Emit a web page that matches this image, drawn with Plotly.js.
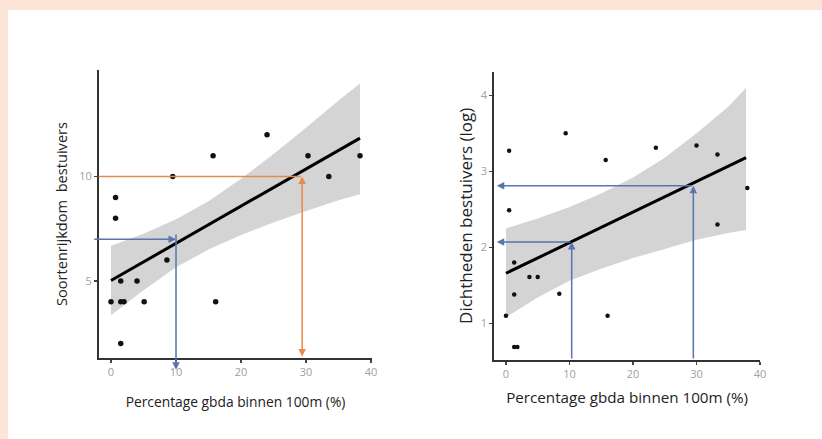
<!DOCTYPE html>
<html>
<head>
<meta charset="utf-8">
<script src="https://cdn.plot.ly/plotly-3.0.1.min.js"></script>
<style>
  html, body { margin: 0; padding: 0; background: #ffffff; }
  #chart { width: 822px; height: 439px; }
</style>
</head>
<body>
<div id="chart"></div>
<script>
// ---- Left panel: species richness ----
var leftX = [0, 0.7, 0.7, 1.5, 1.5, 2.0, 1.5, 4.0, 5.1, 8.6, 9.5, 15.7, 16.1, 24.0, 30.3, 33.5, 38.3];
var leftY = [4, 9, 8, 5, 4, 4, 2, 5, 4, 6, 10, 11, 4, 12, 11, 10, 11];
var leftFitX = [0, 38.3];
var leftFitY = [5.02, 11.84];
var leftBandX = [0, 5, 10, 15, 20, 25, 30, 35, 38.3];
var leftBandUpper = [6.68, 7.26, 7.95, 8.82, 9.89, 11.08, 12.34, 13.64, 14.45];
var leftBandLower = [3.36, 4.56, 5.65, 6.50, 7.20, 7.80, 8.35, 8.86, 9.15];
var leftReadX = [10, 29.4];
var leftReadY = [7.0, 10.0];

// ---- Right panel: density (log) ----
var rightX = [0, 0.5, 0.5, 1.3, 1.3, 1.3, 1.8, 3.7, 5.0, 8.4, 9.4, 15.7, 16.0, 23.6, 30.0, 33.3, 33.3, 38.0];
var rightY = [1.10, 3.27, 2.49, 1.80, 1.38, 0.69, 0.69, 1.61, 1.61, 1.39, 3.50, 3.15, 1.10, 3.31, 3.34, 3.22, 2.30, 2.78];
var rightFitX = [0, 37.8];
var rightFitY = [1.66, 3.18];
var rightBandX = [0, 5, 10, 15, 20, 25, 30, 35, 37.8];
var rightBandUpper = [2.25, 2.38, 2.53, 2.71, 2.92, 3.18, 3.50, 3.85, 4.10];
var rightBandLower = [1.08, 1.34, 1.56, 1.72, 1.86, 1.98, 2.10, 2.19, 2.23];
var rightReadX = [10.35, 29.5];
var rightReadY = [2.07, 2.81];

// ---- Tick labels ----
var xTicks = [0, 10, 20, 30, 40];
var leftYTicks = [5, 10];
var rightYTicks = [1, 2, 3, 4];

var xTitle = 'Percentage gbda binnen 100m (%)';
var leftYTitle = 'Soortenrijkdom  bestuivers';
var rightYTitle = 'Dichtheden bestuivers (log)';

var BAND = '#d4d4d4';
var BLUE = '#5676ac';
var ORANGE = '#e9894a';
var FONT = 'Open Sans, Noto Sans, sans-serif';

function bandTrace(xs, up, lo, xa, ya) {
  return {
    x: xs.concat(xs.slice().reverse()),
    y: up.concat(lo.slice().reverse()),
    xaxis: xa, yaxis: ya,
    type: 'scatter', mode: 'lines', fill: 'toself',
    fillcolor: BAND, line: {width: 0, color: BAND},
    hoverinfo: 'skip'
  };
}

var data = [
  bandTrace(leftBandX, leftBandUpper, leftBandLower, 'x', 'y'),
  {x: leftX, y: leftY, xaxis: 'x', yaxis: 'y', type: 'scatter', mode: 'markers',
   marker: {color: '#111', size: 5.5}},
  {x: leftFitX, y: leftFitY, xaxis: 'x', yaxis: 'y', type: 'scatter', mode: 'lines',
   line: {color: '#000', width: 3}},
  bandTrace(rightBandX, rightBandUpper, rightBandLower, 'x2', 'y2'),
  {x: rightX, y: rightY, xaxis: 'x2', yaxis: 'y2', type: 'scatter', mode: 'markers',
   marker: {color: '#111', size: 4.5}},
  {x: rightFitX, y: rightFitY, xaxis: 'x2', yaxis: 'y2', type: 'scatter', mode: 'lines',
   line: {color: '#000', width: 3}}
];

function axisCommon() {
  return {
    showline: true, linecolor: '#333', linewidth: 2,
    ticks: 'outside', ticklen: 3, tickwidth: 1.5, tickcolor: '#444',
    showgrid: false, zeroline: false,
    tickfont: {family: FONT, size: 11, color: '#a0a0a0'}
  };
}

var xa = Object.assign(axisCommon(), {
  domain: [0.1204, 0.4526], range: [-1.85, 40.15], anchor: 'y',
  tickvals: xTicks,
  title: {text: xTitle, font: {family: FONT, size: 13.8, color: '#222'}, standoff: 19}
});
var ya = Object.assign(axisCommon(), {
  domain: [0.1845, 0.8405], range: [1.31, 15.1], anchor: 'x',
  tickvals: leftYTicks,
  title: {text: leftYTitle, font: {family: FONT, size: 14.6, color: '#222'}, standoff: 8}
});
var xa2 = Object.assign(axisCommon(), {
  domain: [0.6013, 0.9246], range: [-1.84, 40.0], anchor: 'y2',
  tickvals: xTicks,
  title: {text: xTitle, font: {family: FONT, size: 15.2, color: '#222'}, standoff: 12}
});
var ya2 = Object.assign(axisCommon(), {
  domain: [0.18, 0.8367], range: [0.52, 4.31], anchor: 'x2',
  tickvals: rightYTicks,
  title: {text: rightYTitle, font: {family: FONT, size: 17, color: '#222'}, standoff: 4}
});

function arrow(xr, yr, x, y, ax, ay, color, side) {
  return {
    xref: xr, yref: yr, axref: xr, ayref: yr,
    x: x, y: y, ax: ax, ay: ay, text: '',
    showarrow: true, arrowhead: 2, arrowsize: 1, arrowwidth: 1.5,
    arrowcolor: color, arrowside: side || 'end', standoff: 0, startstandoff: 0
  };
}

var annotations = [
  // left panel, blue reading at x = 10
  arrow('x', 'y', leftReadX[0], leftReadY[0], -2.8, leftReadY[0], BLUE),
  arrow('x', 'y', leftReadX[0], 0.75, leftReadX[0], leftReadY[0] + 0.3, BLUE),
  // left panel, orange reading at x = 29.4
  arrow('x', 'y', leftReadX[1], leftReadY[1], leftReadX[1], 1.31, ORANGE, 'end+start'),
  arrow('x', 'y', -1.9, leftReadY[1], leftReadX[1], leftReadY[1], ORANGE, 'none'),
  // right panel, blue readings
  arrow('x2', 'y2', rightReadX[0], rightReadY[0], rightReadX[0], 0.52, BLUE),
  arrow('x2', 'y2', -1.45, rightReadY[0], rightReadX[0], rightReadY[0], BLUE),
  arrow('x2', 'y2', rightReadX[1], rightReadY[1], rightReadX[1], 0.52, BLUE),
  arrow('x2', 'y2', -1.45, rightReadY[1], rightReadX[1], rightReadY[1], BLUE)
];

var shapes = [
  {type: 'rect', xref: 'paper', yref: 'paper', x0: 0, x1: 1, y0: 1 - 10 / 439, y1: 1,
   fillcolor: '#fce4d6', line: {width: 0}, layer: 'below'},
  {type: 'rect', xref: 'paper', yref: 'paper', x0: 0, x1: 8 / 822, y0: 0, y1: 1,
   fillcolor: '#fce4d6', line: {width: 0}, layer: 'below'}
];

var layout = {
  width: 822, height: 439,
  margin: {l: 0, r: 0, t: 0, b: 0, pad: 0},
  paper_bgcolor: '#ffffff', plot_bgcolor: 'rgba(0,0,0,0)',
  showlegend: false,
  font: {family: FONT},
  xaxis: xa, yaxis: ya, xaxis2: xa2, yaxis2: ya2,
  annotations: annotations,
  shapes: shapes
};

Plotly.newPlot('chart', data, layout, {staticPlot: true, displayModeBar: false});
</script>
</body>
</html>
